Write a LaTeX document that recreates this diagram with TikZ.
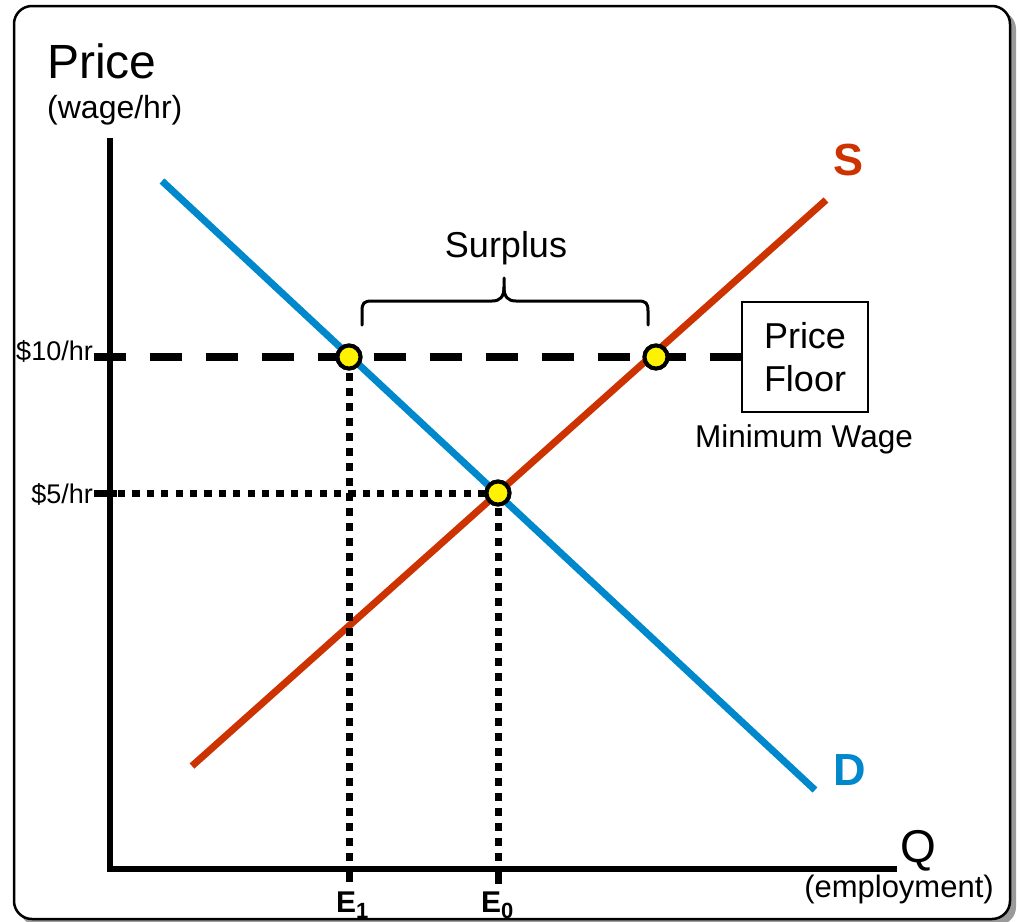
\documentclass[tikz,border=0pt]{standalone}
\usepackage{fontspec}
\setmainfont{Liberation Sans}
\definecolor{dblue}{HTML}{0088CC}
\definecolor{sred}{HTML}{CC3300}
\definecolor{shadowgray}{HTML}{9A9A9A}
\begin{document}
\begin{tikzpicture}[x=1pt,y=-1pt,
  axisline/.style={line width=6pt,black},
  floorline/.style={line width=8pt,dash pattern=on 32pt off 24pt},
  dotline/.style={line width=7pt,dash pattern=on 7.2pt off 7.2pt},
  vdotline/.style={line width=7pt,dash pattern=on 7.5pt off 7.5pt},
  tickmark/.style={line width=7pt},
  curveline/.style={line width=7pt},
  eqdot/.style={circle,fill=yellow,draw=black,line width=4pt,minimum size=23pt,inner sep=0pt},
  lab/.style={inner sep=0pt,font=\fontsize{27}{30}\selectfont},
  bigtxt/.style={inner sep=0pt,font=\fontsize{36}{43}\selectfont}
]
\useasboundingbox (0,0) rectangle (1017,921);
% frame with shadow
\fill[shadowgray,rounded corners=18pt] (19,11) rectangle (1016,925);
\filldraw[fill=white,draw=black,line width=2.5pt,rounded corners=18pt] (14,6) rectangle (1010,919);

% coordinates
\coordinate (yTop) at (110,138);
\coordinate (orig) at (107,869);
\coordinate (xEnd) at (897,869);
\coordinate (p10L) at (94,357);
\coordinate (p10R) at (742,357);
\coordinate (p5L) at (94,493);
\coordinate (p5T) at (117,493);
\coordinate (e1axis) at (349,866);
\coordinate (e1tick) at (349,882);
\coordinate (e0axis) at (498,866);
\coordinate (e0tick) at (498,884);
\coordinate (dA) at (162,181);
\coordinate (dB) at (815,790);
\coordinate (sA) at (192,766);
\coordinate (sB) at (826,200);

% supply and demand
\draw[curveline,dblue] (dA) -- (dB);
\draw[curveline,sred] (sA) -- (sB);

% axes
\draw[axisline] (yTop) -- (110,869);
\draw[axisline] (orig) -- (xEnd);

% equilibrium dots positions
\node[eqdot] (d1) at (349,357) {};
\node[eqdot] (d2) at (656,357) {};
\node[eqdot] (d0) at (498,493) {};

% price floor dashed line
\draw[floorline] (p10L) -- (p10R);
% $5 tick + dotted line
\draw[tickmark] (p5L) -- (p5T);
\draw[dotline] (118,493) -- (d0.center);
% vertical dotted lines
\draw[vdotline] (349,358) -- (e1axis);
\draw[vdotline] (498,493) -- (e0axis);
\draw[tickmark] (e1axis) -- (e1tick);
\draw[tickmark] (e0axis) -- (e0tick);

% dots on top
\node[eqdot] at (d1) {};
\node[eqdot] at (d2) {};
\node[eqdot] at (d0) {};

% brace
\draw[line width=3pt,line cap=round]
  (362,325) -- (362,311) .. controls (362,303) and (364,301) .. (372,301) -- (492,301)
  .. controls (500,301) and (504,297) .. (504,287) -- (504,278);
\draw[line width=3pt,line cap=round]
  (648,325) -- (648,311) .. controls (648,303) and (646,301) .. (638,301) -- (516,301)
  .. controls (508,301) and (504,297) .. (504,287);

% price floor box
\node[draw,line width=2pt,minimum width=126pt,minimum height=110pt,align=center,
  font=\fontsize{36}{43}\selectfont,inner sep=0pt] (pf) at (805,357) {Price\\Floor};

% labels
\node[inner sep=0pt,anchor=base west,font=\fontsize{48}{50}\selectfont] (price) at (47,78) {Price};
\node[inner sep=0pt,anchor=base west,font=\fontsize{32}{34}\selectfont] (wage) at (47,118) {(wage/hr)};
\node[lab,anchor=base east] (l10) at (93,360) {\$10/hr};
\node[lab,anchor=base east] (l5) at (93,503) {\$5/hr};
\node[bigtxt,anchor=base] (surplus) at (506,257) {Surplus};
\node[inner sep=0pt,anchor=base,font=\fontsize{31.5}{34}\selectfont] (minw) at (804,447) {Minimum Wage};
\node[inner sep=0pt,anchor=base,text=sred,font=\fontsize{45}{48}\selectfont\bfseries] (Slab) at (848,175) {S};
\node[inner sep=0pt,anchor=base,text=dblue,font=\fontsize{45}{48}\selectfont\bfseries] (Dlab) at (850,785) {D};
\node[inner sep=0pt,anchor=base,font=\fontsize{46}{48}\selectfont] (Q) at (918,862) {Q};
\node[inner sep=0pt,anchor=base,font=\fontsize{31}{34}\selectfont] (empl) at (899,897) {(employment)};
\node[inner sep=0pt,anchor=base west,font=\fontsize{30}{32}\selectfont\bfseries] (E1) at (336,912)
  {E\raisebox{-6pt}{\fontsize{22}{22}\selectfont\bfseries 1}};
\node[inner sep=0pt,anchor=base west,font=\fontsize{30}{32}\selectfont\bfseries] (E0) at (481,912)
  {E\raisebox{-6pt}{\fontsize{22}{22}\selectfont\bfseries 0}};
\end{tikzpicture}
\end{document}
